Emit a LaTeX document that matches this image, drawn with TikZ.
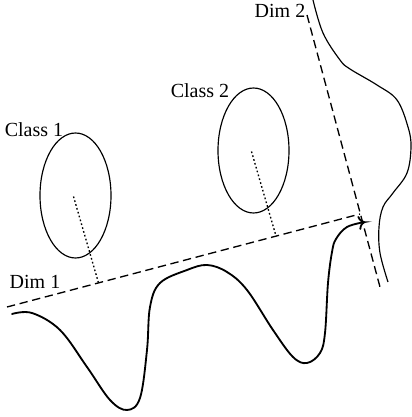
\documentclass[tikz,border=0pt]{standalone}
\usepackage{fontspec}
\setmainfont{Liberation Serif}
\usetikzlibrary{arrows.meta,calc}

\begin{document}
\begin{tikzpicture}[x=0.6pt,y=0.6pt,line width=0.7pt,>=To,
  font=\fontsize{12}{14}\selectfont,
  axis/.style={line width=0.8pt,dash pattern=on 5pt off 2.8pt},
  proj/.style={line width=0.8pt,dash pattern=on 1pt off 1.4pt},
  density/.style={line width=1.1pt,line cap=round}]
\useasboundingbox (0,0) rectangle (412,417);
% ---- axes ----
\coordinate (d1s) at (7,110);
\coordinate (d1e) at (360,203);
\coordinate (d2s) at (307,402);
\coordinate (d2e) at (380,130);
\draw[axis] (d1s) -- (d1e);
\draw[axis] (d2s) -- (d2e);
\node (dim1) at (35,135) {Dim 1};
\node (dim2) at (280,406) {Dim 2};
% ---- classes: ellipse + projection onto Dim 1 ----
\foreach \n/\x/\y in {c1/75.5/221.5, c2/253.5/266.5}{
  \coordinate (\n) at (\x,\y);
  \draw (\n) ellipse (35.5 and 62.5);
  \draw[proj] ($(\n)+(-2,-1)$) -- ($(d1s)!(\n)!(d1e)$);
}
\node (class1) at (34,287) {Class 1};
\node (class2) at (200,326) {Class 2};
% ---- densities ----
\draw[density,->] plot[smooth,tension=0.6] coordinates {
  (12,103) (32,104) (60,87) (87,50) (110,17) (127,7) (140,19) (147,67)
  (150,110) (160,134) (187,147) (207,152) (227,145) (247,127) (273,87)
  (293,60) (307,54) (320,64) (325,84) (328,134) (332,165) (336,178)
  (347,190) (365,195)};
\draw plot[smooth,tension=0.6] coordinates {
  (313,417) (323,384) (340,357) (350,348) (377,332) (397,317) (408,290)
  (411,270) (407,244) (393,224) (383,210) (379,190) (380,164) (388,135)};
\end{tikzpicture}
\end{document}
